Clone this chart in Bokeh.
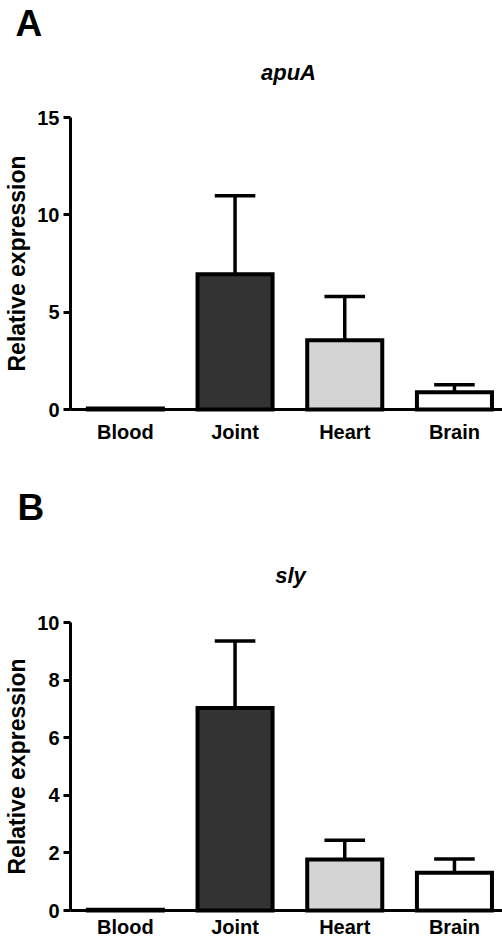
import math
from bokeh.plotting import figure
from bokeh.models import Range1d, FixedTicker, Label, ColumnDataSource, LinearAxis
from bokeh.layouts import column
from bokeh.embed import file_html
from bokeh.resources import INLINE

categories = ["Blood", "Joint", "Heart", "Brain"]
colors = ["#ffffff", "#333333", "#d4d4d4", "#ffffff"]

apua_mean = [0.05, 6.95, 3.56, 0.89]
apua_err = [0.0, 4.03, 2.24, 0.38]
apua_ticks = [0, 5, 10, 15]

sly_mean = [0.03, 7.03, 1.77, 1.31]
sly_err = [0.0, 2.33, 0.67, 0.48]
sly_ticks = [0, 2, 4, 6, 8, 10]

FONT = "Liberation Sans"
W = 502
CAT_PX = 109.7          # pixels per category
AXIS_X_PX = 70          # y axis position in page pixels
BAR_W = 0.684
CAP_HALF = 0.185


def panel(mean, err, ticks, ymax, letter, gene, height, page_top,
          page_zero, page_ymax, letter_pos, gene_pos, xstandoff):
    # pixel geometry of the panel (page coordinates)
    s = (page_zero - page_ymax) / ymax          # pixels per unit
    zero_local = page_zero - page_top
    y_start = -(height - zero_local) / s
    y_end = zero_local / s
    x_start = -AXIS_X_PX / CAT_PX
    x_end = (W - AXIS_X_PX) / CAT_PX

    def px_to_x(px):
        return (px - AXIS_X_PX) / CAT_PX

    def py_to_y(py):
        return (page_zero - py) / s

    p = figure(width=W, height=height, output_backend="svg",
               toolbar_location=None, x_range=Range1d(x_start, x_end),
               y_range=Range1d(y_start, y_end),
               x_axis_location=None, y_axis_location=None,
               min_border_left=0, min_border_right=0, min_border_top=0,
               min_border_bottom=0)
    p.outline_line_color = None
    p.xgrid.visible = False
    p.ygrid.visible = False
    p.background_fill_color = "white"
    p.border_fill_color = "white"

    xs = [i + 0.5 for i in range(len(categories))]
    src = ColumnDataSource(dict(x=xs, top=mean, color=colors))
    p.vbar(x="x", top="top", bottom=0, width=BAR_W, fill_color="color",
           line_color="black", line_width=4, line_join="miter", source=src)

    ex, ey0, ey1 = [], [], []
    for x, m, e in zip(xs, mean, err):
        if e > 0:
            ex.append(x)
            ey0.append(m)
            ey1.append(m + e)
    p.segment(x0=ex, y0=ey0, x1=ex, y1=ey1, line_color="black",
              line_width=3.5)
    p.segment(x0=[x - CAP_HALF for x in ex], y0=ey1,
              x1=[x + CAP_HALF for x in ex], y1=ey1,
              line_color="black", line_width=3.5)

    xa = LinearAxis(fixed_location=0, bounds=(0, x_end))
    xa.ticker = FixedTicker(ticks=xs)
    xa.major_label_overrides = {x: c for x, c in zip(xs, categories)}
    xa.major_tick_out = 0
    xa.major_tick_in = 0
    xa.minor_tick_out = 0
    xa.minor_tick_in = 0
    xa.axis_line_width = 3
    xa.axis_line_color = "black"
    xa.major_label_text_font = FONT
    xa.major_label_text_font_style = "bold"
    xa.major_label_text_font_size = "20px"
    xa.major_label_text_color = "black"
    xa.major_label_standoff = xstandoff
    p.add_layout(xa, "below")

    ya = LinearAxis(fixed_location=0, bounds=(0, ymax))
    ya.ticker = FixedTicker(ticks=ticks)
    ya.major_tick_out = 7
    ya.major_tick_in = 0
    ya.minor_tick_out = 0
    ya.minor_tick_in = 0
    ya.major_tick_line_width = 3
    ya.axis_line_width = 3
    ya.axis_line_color = "black"
    ya.major_tick_line_color = "black"
    ya.major_label_text_font = FONT
    ya.major_label_text_font_style = "bold"
    ya.major_label_text_font_size = "20px"
    ya.major_label_text_color = "black"
    ya.major_label_standoff = 4
    p.add_layout(ya, "left")

    # y axis title (rotated), centred on the axis
    p.add_layout(Label(x=px_to_x(16), y=ymax / 2, text="Relative expression",
                       angle=math.pi / 2, angle_units="rad",
                       text_font=FONT, text_font_style="bold",
                       text_font_size="23px", text_color="black",
                       text_align="center", text_baseline="middle"))
    # panel letter
    p.add_layout(Label(x=px_to_x(letter_pos[0]), y=py_to_y(letter_pos[1]),
                       text=letter, text_font=FONT, text_font_style="bold",
                       text_font_size="37px", text_color="black",
                       text_align="left", text_baseline="alphabetic"))
    # gene name
    p.add_layout(Label(x=px_to_x(gene_pos[0]), y=py_to_y(gene_pos[1]),
                       text=gene, text_font=FONT,
                       text_font_style="bold italic", text_font_size="22px",
                       text_color="black", text_align="center",
                       text_baseline="alphabetic"))
    return p


pa = panel(apua_mean, apua_err, apua_ticks, 15, "A", "apuA",
           480, 0, 409, 117, (15, 23), (288, 72), 11)
pb = panel(sly_mean, sly_err, sly_ticks, 10, "B", "sly",
           457, 480, 910, 622, (17, 507), (290, 575), 5)

layout = column(pa, pb, spacing=0)
open("out.html", "w").write(file_html(layout, INLINE))
